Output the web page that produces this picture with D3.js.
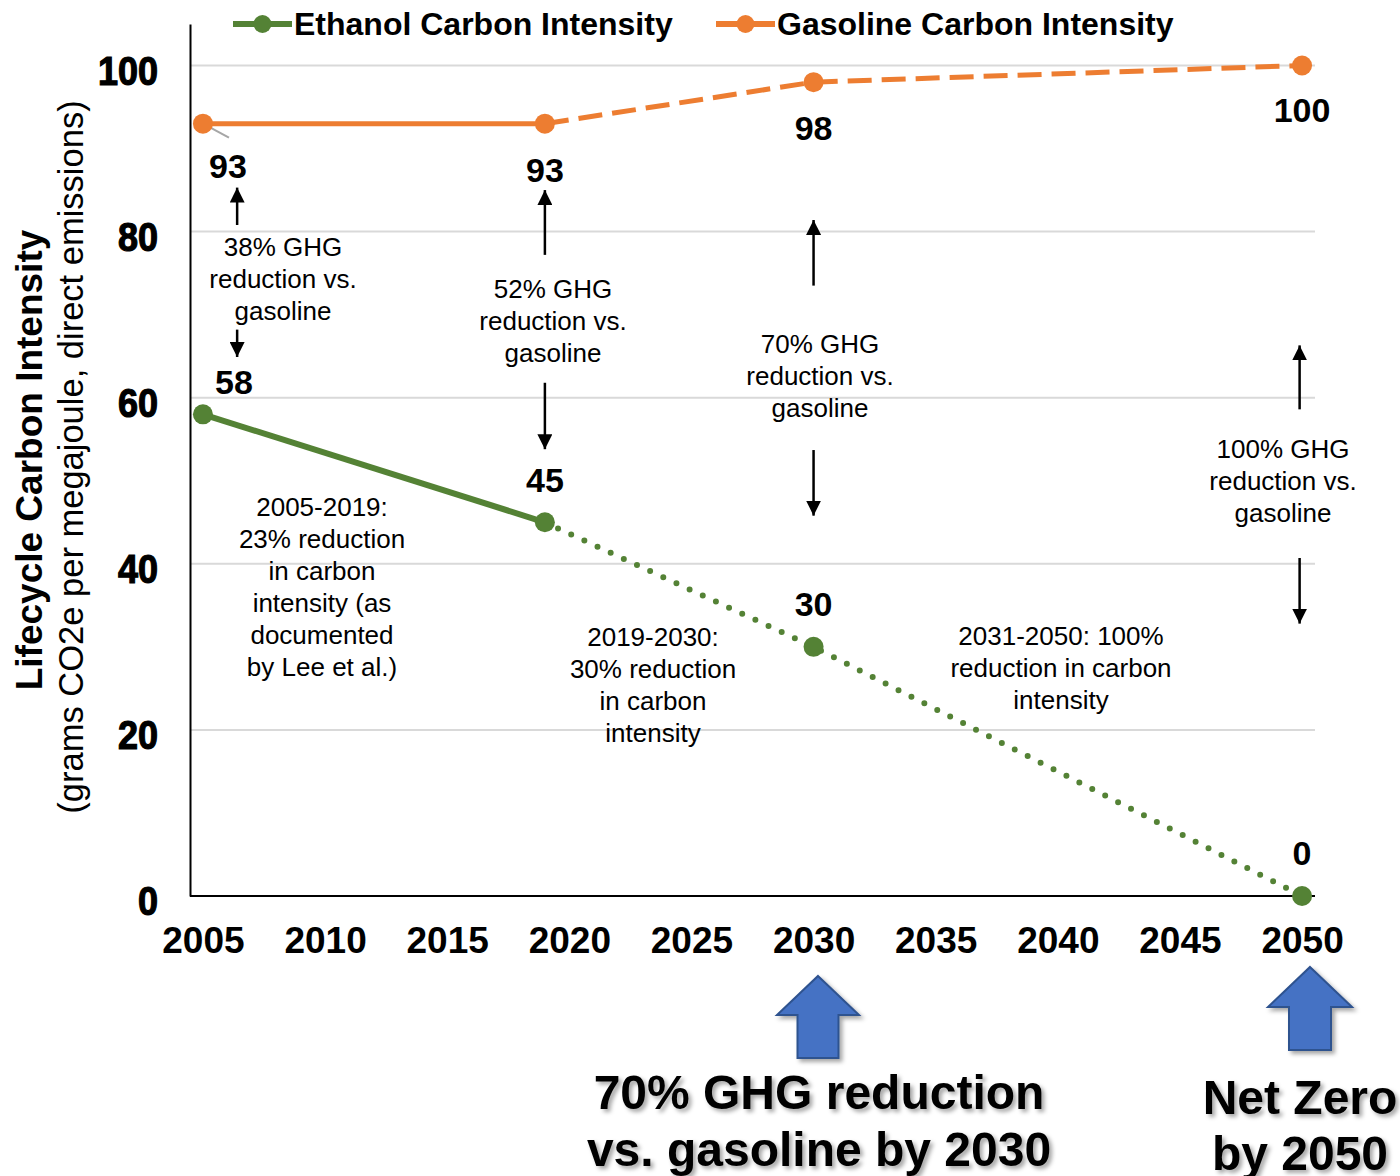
<!DOCTYPE html>
<html>
<head>
<meta charset="utf-8">
<script src="https://cdn.jsdelivr.net/npm/d3@7"></script>
<style>
  html, body { margin: 0; padding: 0; background: #fff; }
  svg { display: block; font-family: "Liberation Sans", Arial, sans-serif; }
</style>
</head>
<body>
<svg id="chart" width="1400" height="1176"></svg>
<script>
// ---------------- DATA ----------------
const years = [2005, 2019, 2030, 2050];
const ethanolValues = [58, 45, 30, 0];
const gasolineValues = [93, 93, 98, 100];
const xTickValues = [2005, 2010, 2015, 2020, 2025, 2030, 2035, 2040, 2045, 2050];
const yTickValues = [0, 20, 40, 60, 80, 100];
const seriesNames = ["Ethanol Carbon Intensity", "Gasoline Carbon Intensity"];
const yTitle = "Lifecycle Carbon Intensity";
const ySubTitle = "(grams CO2e per megajoule, direct emissions)";
const reductionNotes = [
  ["38% GHG", "reduction vs.", "gasoline"],
  ["52% GHG", "reduction vs.", "gasoline"],
  ["70% GHG", "reduction vs.", "gasoline"],
  ["100% GHG", "reduction vs.", "gasoline"]
];
const periodNotes = [
  ["2005-2019:", "23% reduction", "in carbon", "intensity (as", "documented", "by Lee et al.)"],
  ["2019-2030:", "30% reduction", "in carbon", "intensity"],
  ["2031-2050: 100%", "reduction in carbon", "intensity"]
];
const goalTexts = [
  ["70% GHG reduction", "vs. gasoline by 2030"],
  ["Net Zero", "by 2050"]
];

// ---------------- LAYOUT ----------------
const W = 1400, H = 1176;
const plot = { left: 190, right: 1315, top: 24, bottom: 896 };
const green = "#548235", orange = "#ED7D31", blue = "#4472C4", blueDark = "#2F528F";

const svg = d3.select("#chart");
const defs = svg.append("defs");
const shadow = defs.append("filter").attr("id", "shadow")
  .attr("x", "-20%").attr("y", "-20%").attr("width", "140%").attr("height", "140%");
shadow.append("feDropShadow").attr("dx", 3).attr("dy", 3).attr("stdDeviation", 2)
  .attr("flood-color", "#000").attr("flood-opacity", 0.35);

defs.append("marker").attr("id", "ah")
  .attr("viewBox", "0 0 10 10").attr("refX", 10).attr("refY", 5)
  .attr("markerWidth", 6).attr("markerHeight", 6).attr("markerUnits", "strokeWidth")
  .attr("orient", "auto")
  .append("path").attr("d", "M0,0 L10,5 L0,10 z").attr("fill", "#000");

const x = d3.scaleLinear().domain([2004.47, 2050.53]).range([plot.left, plot.right]);
const y = d3.scaleLinear().domain([0, 105]).range([plot.bottom, plot.top]);

// gridlines
svg.append("g").selectAll("line").data(yTickValues.filter(v => v > 0)).join("line")
  .attr("x1", plot.left).attr("x2", plot.right)
  .attr("y1", d => y(d)).attr("y2", d => y(d))
  .attr("stroke", "#D9D9D9").attr("stroke-width", 2);

// y axis
const yAxis = svg.append("g").attr("transform", `translate(${plot.left},0)`)
  .call(d3.axisLeft(y).tickValues(yTickValues).tickSize(0).tickPadding(32).tickFormat(d3.format("d")));
yAxis.select(".domain").attr("stroke", "#000").attr("stroke-width", 2);
yAxis.selectAll("text").attr("font-size", 40).attr("font-weight", "bold")
  .attr("fill", "#000").attr("font-family", "Liberation Sans, Arial, sans-serif")
  .attr("stroke", "#000").attr("stroke-width", 1.2)
  .attr("dy", "0.47em")
  .each(function () {
    const w = this.getComputedTextLength();
    d3.select(this).attr("textLength", w * 0.9).attr("lengthAdjust", "spacingAndGlyphs");
  });

// x axis
const xAxis = svg.append("g").attr("transform", `translate(0,${plot.bottom})`)
  .call(d3.axisBottom(x).tickValues(xTickValues).tickSize(0).tickPadding(31).tickFormat(d3.format("d")));
xAxis.select(".domain").attr("stroke", "#000").attr("stroke-width", 2)
  .attr("d", `M${plot.left},0H${plot.right}`);
xAxis.selectAll("text").attr("font-size", 37).attr("font-weight", "bold")
  .attr("fill", "#000").attr("font-family", "Liberation Sans, Arial, sans-serif");

// axis titles
svg.append("text").attr("transform", `translate(42,460) rotate(-90)`)
  .attr("text-anchor", "middle").attr("font-size", 37).attr("font-weight", "bold")
  .text(yTitle);
svg.append("text").attr("transform", `translate(83,457) rotate(-90)`)
  .attr("text-anchor", "middle").attr("font-size", 34.5)
  .text(ySubTitle);

// ---------------- SERIES ----------------
const pts = (vals) => years.map((yr, i) => ({ x: yr, v: vals[i] }));
const line = d3.line().x(d => x(d.x)).y(d => y(d.v));
const gasPts = pts(gasolineValues), ethPts = pts(ethanolValues);

// gasoline
svg.append("path").attr("d", line(gasPts.slice(0, 2))).attr("fill", "none")
  .attr("stroke", orange).attr("stroke-width", 5);
svg.append("path").attr("d", line(gasPts.slice(1))).attr("fill", "none")
  .attr("stroke", orange).attr("stroke-width", 5).attr("stroke-dasharray", "24 10");
// ethanol
svg.append("path").attr("d", line(ethPts.slice(0, 2))).attr("fill", "none")
  .attr("stroke", green).attr("stroke-width", 6);
svg.append("path").attr("d", line(ethPts.slice(1))).attr("fill", "none")
  .attr("stroke", green).attr("stroke-width", 6).attr("stroke-linecap", "round")
  .attr("stroke-dasharray", "0 14.5");

// leader line for first gasoline label
svg.append("line").attr("x1", x(2005)).attr("y1", y(93))
  .attr("x2", x(2005) + 26).attr("y2", y(93) + 14)
  .attr("stroke", "#A6A6A6").attr("stroke-width", 2);

svg.append("g").selectAll("circle").data(gasPts).join("circle")
  .attr("cx", d => x(d.x)).attr("cy", d => y(d.v)).attr("r", 10).attr("fill", orange);
svg.append("g").selectAll("circle").data(ethPts).join("circle")
  .attr("cx", d => x(d.x)).attr("cy", d => y(d.v)).attr("r", 10).attr("fill", green);

// data labels (offsets in px from point)
const gasLabelOff = [[25, 42], [0, 46], [0, 46], [0, 45]];
const ethLabelOff = [[31, -32], [0, -42], [0, -43], [0, -43]];
const labelG = svg.append("g").attr("font-size", 34).attr("font-weight", "bold").attr("text-anchor", "middle");
gasPts.forEach((d, i) => labelG.append("text")
  .attr("x", x(d.x) + gasLabelOff[i][0]).attr("y", y(d.v) + gasLabelOff[i][1]).attr("dy", "0.35em")
  .text(d.v));
ethPts.forEach((d, i) => labelG.append("text")
  .attr("x", x(d.x) + ethLabelOff[i][0]).attr("y", y(d.v) + ethLabelOff[i][1]).attr("dy", "0.35em")
  .text(d.v));

// ---------------- LEGEND ----------------
const legendItems = [
  { name: seriesNames[0], color: green, x0: 233, tx: 294 },
  { name: seriesNames[1], color: orange, x0: 716, tx: 777 }
];
const lg = svg.append("g");
legendItems.forEach(it => {
  lg.append("line").attr("x1", it.x0).attr("x2", it.x0 + 59).attr("y1", 24).attr("y2", 24)
    .attr("stroke", it.color).attr("stroke-width", 6);
  lg.append("circle").attr("cx", it.x0 + 29.5).attr("cy", 24).attr("r", 9).attr("fill", it.color);
  lg.append("text").attr("x", it.tx).attr("y", 24).attr("dy", "0.35em")
    .attr("font-size", 32).attr("font-weight", "bold").text(it.name);
});

// ---------------- ANNOTATIONS ----------------
const noteG = svg.append("g").attr("font-size", 26).attr("text-anchor", "middle").attr("fill", "#000");
function multiline(lines, cx, cy0, step) {
  lines.forEach((t, i) => noteG.append("text").attr("x", cx).attr("y", cy0 + i * step)
    .attr("dy", "0.35em").text(t));
}
// reduction notes: centre x (px), first-line y (px)
const reductionPos = [[283, 247], [553, 289], [820, 344], [1283, 449]];
reductionNotes.forEach((ls, i) => multiline(ls, reductionPos[i][0], reductionPos[i][1], 32));
const periodPos = [[322, 507], [653, 637], [1061, 636]];
periodNotes.forEach((ls, i) => multiline(ls, periodPos[i][0], periodPos[i][1], 32));

// arrows: [xYear, fromValue, toValue]
const arrowSpecs = [
  [2006.4, 80.8, 85.3], [2006.4, 68.2, 64.9],
  [2019, 77.2, 85.0], [2019, 61.8, 53.8],
  [2030, 73.5, 81.4], [2030, 53.7, 45.8],
  [2049.9, 58.6, 66.3], [2049.9, 40.7, 32.8]
];
svg.append("g").selectAll("line").data(arrowSpecs).join("line")
  .attr("x1", d => x(d[0])).attr("x2", d => x(d[0]))
  .attr("y1", d => y(d[1])).attr("y2", d => y(d[2]))
  .attr("stroke", "#000").attr("stroke-width", 2.5).attr("marker-end", "url(#ah)");

// ---------------- BIG BLUE ARROWS ----------------
function blockArrow(cx, tip, headY, bottom, headHalf, shaftHalf) {
  return `M${cx},${tip} L${cx + headHalf},${headY} L${cx + shaftHalf},${headY} L${cx + shaftHalf},${bottom} ` +
    `L${cx - shaftHalf},${bottom} L${cx - shaftHalf},${headY} L${cx - headHalf},${headY} Z`;
}
svg.append("path").attr("d", blockArrow(818, 976, 1015, 1058, 41, 20.5))
  .attr("fill", blue).attr("stroke", blueDark).attr("stroke-width", 2).attr("filter", "url(#shadow)");
svg.append("path").attr("d", blockArrow(1310, 967, 1007, 1050, 42, 21))
  .attr("fill", blue).attr("stroke", blueDark).attr("stroke-width", 2).attr("filter", "url(#shadow)");

const goalG = svg.append("g").attr("font-size", 48).attr("font-weight", "bold")
  .attr("text-anchor", "middle").attr("filter", "url(#shadow)");
const goalPos = [[819, 1092, 57], [1300, 1097, 56]];
goalTexts.forEach((ls, i) => ls.forEach((t, j) => goalG.append("text")
  .attr("x", goalPos[i][0]).attr("y", goalPos[i][1] + j * goalPos[i][2]).attr("dy", "0.35em").text(t)));
</script>
</body>
</html>
